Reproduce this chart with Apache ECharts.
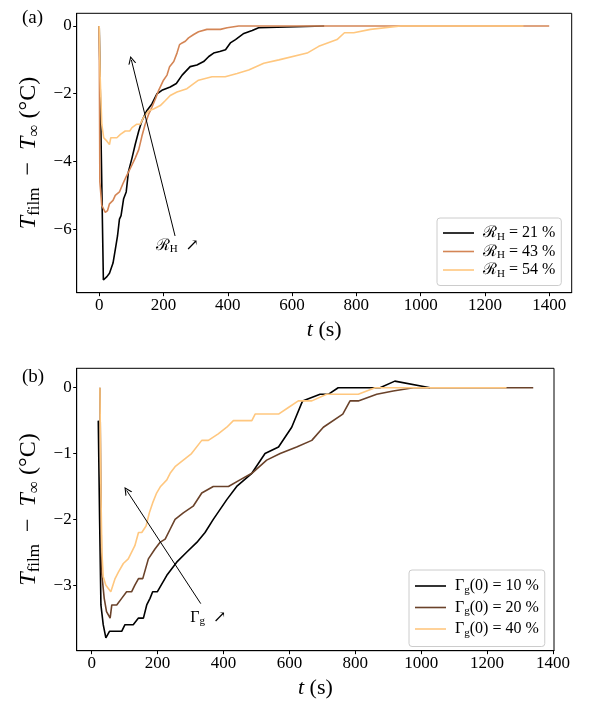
<!DOCTYPE html>
<html>
<head>
<meta charset="utf-8">
<script src="https://cdn.jsdelivr.net/npm/echarts@6/dist/echarts.min.js"></script>
<style>
html,body{margin:0;padding:0;background:#fff;}
#c{width:590px;height:710px;}
</style>
</head>
<body>
<div id="c"></div>
<script>
// ---------- Panel (a) data ----------
const tA21 = [0, 13, 24, 32, 43, 50, 57, 63, 68, 76, 84, 91, 102, 112, 123, 133, 148, 164, 180, 195, 221, 240, 258, 283, 304, 325, 341, 356, 375, 393, 408, 424, 450, 476, 496, 502, 700];
const vA21 = [0, -7.5, -7.4, -7.3, -7.0, -6.6, -6.2, -5.7, -5.6, -5.1, -4.9, -4.3, -3.9, -3.5, -3.1, -2.8, -2.5, -2.3, -2.0, -1.9, -1.8, -1.7, -1.45, -1.2, -1.15, -1.05, -0.9, -0.8, -0.75, -0.7, -0.5, -0.4, -0.22, -0.13, -0.05, 0, 0];
const tA43 = [0, 2, 8, 19, 26, 32, 43, 50, 63, 74, 84, 97, 112, 123, 133, 143, 154, 164, 175, 185, 200, 211, 219, 232, 242, 250, 258, 268, 278, 294, 309, 335, 377, 398, 434, 1400];
const vA43 = [0, -4.6, -5.3, -5.5, -5.45, -5.25, -5.15, -5.0, -4.9, -4.65, -4.45, -4.2, -3.9, -3.65, -3.25, -2.9, -2.6, -2.4, -2.15, -1.9, -1.6, -1.45, -1.2, -1.05, -0.8, -0.55, -0.5, -0.45, -0.35, -0.25, -0.17, -0.1, -0.1, -0.05, 0, 0];
const tA54 = [0, 3, 8, 14, 24, 32, 36, 55, 66, 81, 95, 102, 117, 128, 138, 154, 169, 190, 206, 221, 242, 273, 294, 309, 351, 392, 429, 465, 512, 559, 647, 683, 740, 763, 792, 844, 938, 1320];
const vA54 = [0, -1.5, -2.9, -3.3, -3.4, -3.5, -3.3, -3.3, -3.2, -3.1, -3.1, -3.0, -2.9, -2.9, -2.7, -2.5, -2.45, -2.35, -2.2, -2.05, -1.95, -1.85, -1.7, -1.6, -1.5, -1.5, -1.4, -1.3, -1.1, -1.0, -0.8, -0.6, -0.4, -0.2, -0.2, -0.1, 0, 0];
const labelsA = ['21', '43', '54'];
const colorsA = ['#000000', '#d48555', '#ffc77f'];

// ---------- Panel (b) data ----------
const tB10 = [20, 24, 28, 35, 43, 54, 91, 101, 126, 142, 157, 167, 177, 185, 199, 228, 258, 288, 319, 344, 369, 410, 440, 486, 526, 567, 607, 640, 693, 718, 748, 875, 920, 1027];
const vB10 = [-0.5, -2.0, -3.3, -3.6, -3.8, -3.7, -3.7, -3.6, -3.6, -3.5, -3.5, -3.3, -3.2, -3.1, -3.1, -2.85, -2.65, -2.5, -2.35, -2.2, -2.0, -1.7, -1.5, -1.3, -1.0, -0.9, -0.6, -0.2, -0.1, -0.1, 0, 0, 0.1, 0];
const tB20 = [25, 30, 38, 45, 56, 61, 76, 91, 106, 121, 131, 142, 155, 172, 192, 207, 223, 238, 253, 278, 308, 334, 369, 415, 450, 486, 531, 572, 622, 668, 703, 762, 784, 809, 865, 915, 976, 1340];
const vB20 = [0, -2.8, -3.2, -3.4, -3.5, -3.3, -3.3, -3.2, -3.1, -3.1, -3.0, -2.9, -2.9, -2.6, -2.45, -2.35, -2.3, -2.15, -2.0, -1.9, -1.8, -1.6, -1.5, -1.5, -1.4, -1.3, -1.1, -1.0, -0.9, -0.8, -0.6, -0.4, -0.2, -0.2, -0.1, -0.05, 0, 0];
const tB40 = [25, 28, 31, 35, 43, 58, 71, 81, 96, 111, 131, 142, 152, 165, 175, 185, 197, 209, 228, 238, 253, 278, 303, 334, 354, 384, 410, 430, 486, 496, 567, 597, 627, 668, 713, 809, 860, 1259];
const vB40 = [0, -1.6, -2.5, -2.87, -3.0, -3.1, -2.9, -2.8, -2.67, -2.6, -2.4, -2.2, -2.2, -2.1, -1.9, -1.75, -1.6, -1.5, -1.4, -1.3, -1.2, -1.1, -1.0, -0.8, -0.8, -0.7, -0.6, -0.5, -0.5, -0.4, -0.4, -0.3, -0.2, -0.2, -0.1, -0.1, 0, 0];
const labelsB = ['10', '20', '40'];
const colorsB = ['#000000', '#6a422a', '#ffc77f'];

const xTicksA = [0, 200, 400, 600, 800, 1000, 1200, 1400];
const yTicksA = [-6, -4, -2, 0];
const xTicksB = [0, 200, 400, 600, 800, 1000, 1200, 1400];
const yTicksB = [-3, -2, -1, 0];

// annotations (data coordinates)
const arrowA = [[236, -6.2], [100, -1.0]];
const textA = [243, -6.48];
const arrowB = [[331, -3.28], [106, -1.56]];
const textB = [354, -3.49];

// ---------- build ----------
const FONT = 'Liberation Serif, DejaVu Serif, serif';
const zip = (t, v) => t.map((x, i) => [x, v[i]]);
const minus = v => String(v).replace('-', '\u2212');
const arrowHead = 'path://M0,20 L10,0 L20,20 L17,20 L10,6 L3,20 Z';

const richBase = {
  n: {fontFamily: FONT, fontSize: 16, color: '#000', lineHeight: 19, verticalAlign: 'middle'},
  s: {fontFamily: FONT, fontSize: 11, color: '#000', lineHeight: 8, verticalAlign: 'bottom'}
};
const richX = {
  n: {fontFamily: FONT, fontSize: 22, color: '#000', lineHeight: 26, verticalAlign: 'middle'},
  it: {fontFamily: FONT, fontSize: 22, fontStyle: 'italic', color: '#000', lineHeight: 26, verticalAlign: 'middle'}
};
const richY = {
  n: {fontFamily: FONT, fontSize: 24, color: '#000', lineHeight: 28, verticalAlign: 'middle'},
  it: {fontFamily: FONT, fontSize: 24, fontStyle: 'italic', color: '#000', lineHeight: 28, verticalAlign: 'middle'},
  s: {fontFamily: FONT, fontSize: 17, color: '#000', lineHeight: 13, verticalAlign: 'bottom'}
};

const nameA = i => 'RH' + labelsA[i];
const nameB = i => 'GG' + labelsB[i];
const fmtA = name => '{n|\u211B}{s|H}{n| = ' + name.slice(2) + ' %}';
const fmtB = name => '{n|\u0393}{s|g}{n|(0) = ' + name.slice(2) + ' %}';

function axisX(grid, min, max, ticks) {
  return {
    type: 'value', gridIndex: grid, min: min, max: max,
    name: '{it|t}{n| (s)}', nameLocation: 'middle', nameGap: 25,
    nameTextStyle: {rich: richX},
    axisLine: {show: true, onZero: false, lineStyle: {color: '#000', width: 1}},
    axisTick: {show: true, length: 3.5, customValues: ticks, lineStyle: {color: '#000'}},
    axisLabel: {customValues: ticks, formatter: minus, fontFamily: FONT, fontSize: 17, color: '#000', margin: 4},
    splitLine: {show: false}
  };
}
function axisY(grid, min, max, ticks) {
  return {
    type: 'value', gridIndex: grid, min: min, max: max,
    name: '{it|T}{s|film}{n|\u2002\u2212\u2002}{it|T}{s|\u221E}{n| (\u00B0C)}',
    nameLocation: 'middle', nameRotate: 90, nameGap: 29,
    nameTextStyle: {rich: richY},
    axisLine: {show: true, onZero: false, lineStyle: {color: '#000', width: 1}},
    axisTick: {show: true, length: 3.5, customValues: ticks, lineStyle: {color: '#000'}},
    axisLabel: {customValues: ticks, formatter: minus, fontFamily: FONT, fontSize: 17, color: '#000', margin: 5},
    splitLine: {show: false}
  };
}
function lineSeries(name, data, color, idx) {
  return {
    name: name, type: 'line', xAxisIndex: idx, yAxisIndex: idx, data: data,
    showSymbol: false, symbol: 'none', smooth: false, animation: false,
    lineStyle: {color: color, width: 1.6}, itemStyle: {color: color}, z: 2
  };
}
function annot(series, arrow, txtPos, txt) {
  series.markLine = {
    silent: true, animation: false, symbol: ['none', arrowHead], symbolSize: 8,
    symbolKeepAspect: true,
    itemStyle: {color: '#000'},
    lineStyle: {color: '#000', width: 1, type: 'solid'}, label: {show: false},
    emphasis: {disabled: true},
    data: [[{coord: arrow[0]}, {coord: arrow[1]}]]
  };
  series.markPoint = {
    silent: true, animation: false, symbol: 'circle', symbolSize: 1,
    itemStyle: {color: 'rgba(0,0,0,0)'},
    label: {show: true, position: 'inside', formatter: txt, rich: richBase, color: '#000'},
    data: [{coord: txtPos}]
  };
}

const series = [];
const dataA = [zip(tA21, vA21), zip(tA43, vA43), zip(tA54, vA54)];
const dataB = [zip(tB10, vB10), zip(tB20, vB20), zip(tB40, vB40)];
for (let i = 0; i < 3; i++) series.push(lineSeries(nameA(i), dataA[i], colorsA[i], 0));
for (let i = 0; i < 3; i++) series.push(lineSeries(nameB(i), dataB[i], colorsB[i], 1));
annot(series[0], arrowA, textA, '{n|\u211B}{s|H}{n|  \u2197}');
annot(series[3], arrowB, textB, '{n|\u0393}{s|g}{n|  \u2197}');

const legendCommon = {
  orient: 'vertical', icon: 'rect', itemWidth: 31, itemHeight: 1.6,
  backgroundColor: '#fff', borderColor: '#cccccc', borderWidth: 1, borderRadius: 3,
  selectedMode: false, textStyle: {rich: richBase, padding: [0, 0, 0, 4]}
};

const option = {
  animation: false,
  backgroundColor: '#fff',
  title: [
    {text: '(a)', left: 17, top: 4, textStyle: {fontFamily: FONT, fontSize: 19, fontWeight: 'normal', color: '#000'}},
    {text: '(b)', left: 17, top: 363, textStyle: {fontFamily: FONT, fontSize: 19, fontWeight: 'normal', color: '#000'}}
  ],
  grid: [
    {left: 76.7, top: 13.3, width: 495, height: 279.4, show: true, borderColor: '#000', borderWidth: 1, containLabel: false},
    {left: 76.7, top: 368.3, width: 477.3, height: 282.4, show: true, borderColor: '#000', borderWidth: 1, containLabel: false}
  ],
  xAxis: [axisX(0, -70, 1470, xTicksA), axisX(1, -45.5, 1403, xTicksB)],
  yAxis: [axisY(0, -7.875, 0.375, yTicksA), axisY(1, -3.995, 0.295, yTicksB)],
  legend: [
    Object.assign({}, legendCommon, {left: 437, top: 218, padding: [7, 6, 6, 6], itemGap: 1,
      data: [nameA(0), nameA(1), nameA(2)], formatter: fmtA}),
    Object.assign({}, legendCommon, {left: 409, top: 570, padding: [8, 6, 8, 6], itemGap: 4,
      data: [nameB(0), nameB(1), nameB(2)], formatter: fmtB})
  ],
  series: series
};

const chart = echarts.init(document.getElementById('c'), null, {renderer: 'canvas'});
chart.setOption(option);
</script>
</body>
</html>
